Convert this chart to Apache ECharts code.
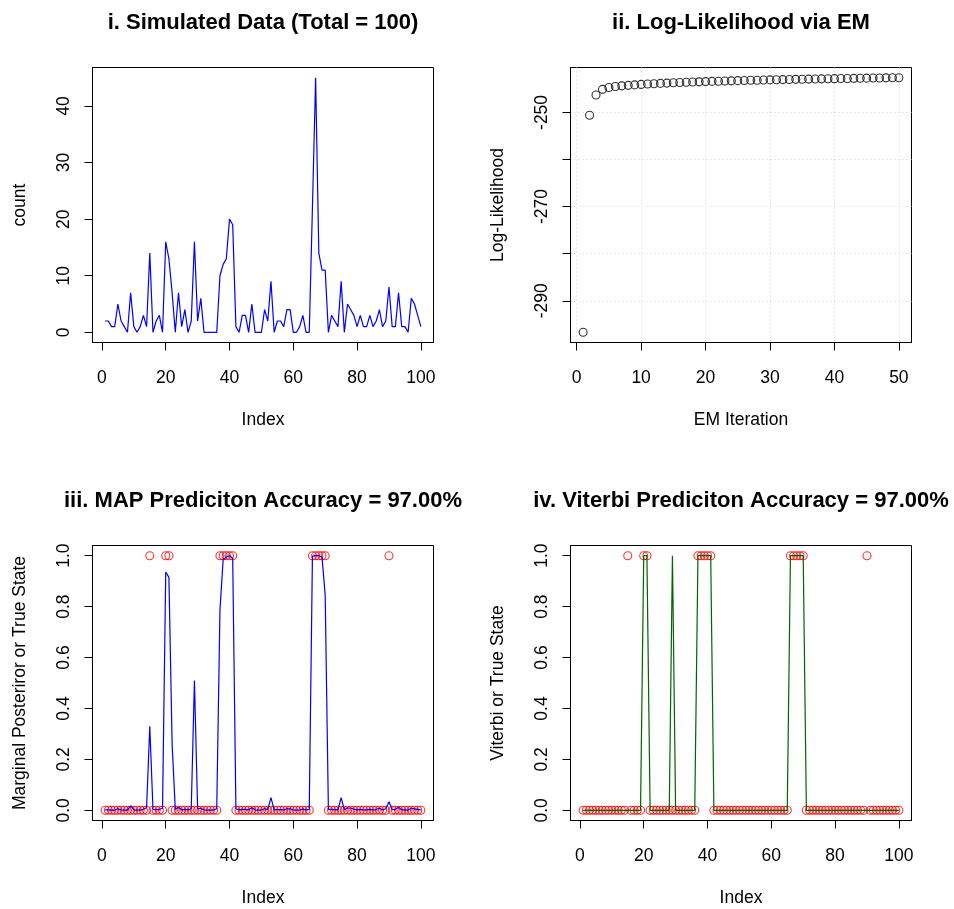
<!DOCTYPE html>
<html>
<head>
<meta charset="utf-8">
<script src="https://cdn.jsdelivr.net/npm/echarts@6/dist/echarts.min.js"></script>
<style>
  html, body { margin: 0; padding: 0; background: #fff; }
  #chart { width: 954px; height: 909px; }
</style>
</head>
<body>
<div id="chart"></div>
<script>
// Observed counts per index (1..100)
const counts = [
  2, 2, 1, 1, 5, 2, 1, 0, 7, 1,
  0, 1, 3, 1, 14, 0, 2, 3, 0, 16,
  13, 7, 0, 7, 1, 4, 0, 2, 16, 2,
  6, 0, 0, 0, 0, 0, 10, 12, 13, 20,
  19, 1, 0, 3, 3, 0, 5, 0, 0, 0,
  4, 2, 9, 0, 2, 2, 1, 4, 4, 0,
  0, 1, 3, 0, 0, 22, 45, 14, 11, 11,
  0, 3, 2, 1, 9, 0, 5, 4, 3, 1,
  3, 1, 1, 3, 1, 2, 4, 1, 2, 8,
  1, 1, 7, 1, 1, 0, 6, 5, 3, 1
];

// Log-likelihood after each EM iteration (1..50)
const logLik = [
  -296.7, -250.6, -246.3, -245.1, -244.7, -244.5, -244.35, -244.25, -244.15, -244.05,
  -243.97, -243.9, -243.83, -243.77, -243.71, -243.65, -243.6, -243.55, -243.5, -243.45,
  -243.41, -243.37, -243.33, -243.29, -243.25, -243.21, -243.18, -243.15, -243.12, -243.09,
  -243.06, -243.03, -243.0, -242.97, -242.95, -242.92, -242.9, -242.87, -242.85, -242.83,
  -242.8, -242.78, -242.76, -242.74, -242.72, -242.7, -242.68, -242.66, -242.64, -242.62
];

// Marginal posterior probability of state 1
const posterior = [
  0.002, 0.002, 0.001, 0.001, 0.006, 0.002, 0.001, 0.001, 0.018, 0.002,
  0.001, 0.002, 0.004, 0.01, 0.33, 0.004, 0.003, 0.004, 0.008, 0.936,
  0.915, 0.26, 0.004, 0.012, 0.002, 0.004, 0.002, 0.006, 0.51, 0.006,
  0.008, 0.002, 0.001, 0.001, 0.002, 0.006, 0.786, 0.984, 0.995, 1.0,
  0.99, 0.006, 0.002, 0.004, 0.004, 0.002, 0.01, 0.002, 0.001, 0.002,
  0.006, 0.004, 0.05, 0.002, 0.003, 0.003, 0.002, 0.006, 0.006, 0.002,
  0.001, 0.002, 0.005, 0.002, 0.004, 0.998, 1.0, 1.0, 0.995, 0.845,
  0.004, 0.004, 0.003, 0.002, 0.05, 0.002, 0.01, 0.008, 0.005, 0.002,
  0.004, 0.002, 0.002, 0.004, 0.002, 0.003, 0.008, 0.002, 0.006, 0.034,
  0.003, 0.004, 0.012, 0.002, 0.002, 0.001, 0.008, 0.006, 0.004, 0.002
];

// Hidden state used to simulate the counts
const trueState = [
  0, 0, 0, 0, 0, 0, 0, 0, 0, 0,
  0, 0, 0, 0, 1, 0, 0, 0, 0, 1,
  1, 0, 0, 0, 0, 0, 0, 0, 0, 0,
  0, 0, 0, 0, 0, 0, 1, 1, 1, 1,
  1, 0, 0, 0, 0, 0, 0, 0, 0, 0,
  0, 0, 0, 0, 0, 0, 0, 0, 0, 0,
  0, 0, 0, 0, 0, 1, 1, 1, 1, 1,
  0, 0, 0, 0, 0, 0, 0, 0, 0, 0,
  0, 0, 0, 0, 0, 0, 0, 0, 0, 1,
  0, 0, 0, 0, 0, 0, 0, 0, 0, 0
];

// Most likely state path from Viterbi decoding
const viterbiPath = [
  0, 0, 0, 0, 0, 0, 0, 0, 0, 0,
  0, 0, 0, 0, 0, 0, 0, 0, 0, 1,
  1, 0, 0, 0, 0, 0, 0, 0, 1, 0,
  0, 0, 0, 0, 0, 0, 1, 1, 1, 1,
  1, 0, 0, 0, 0, 0, 0, 0, 0, 0,
  0, 0, 0, 0, 0, 0, 0, 0, 0, 0,
  0, 0, 0, 0, 0, 1, 1, 1, 1, 1,
  0, 0, 0, 0, 0, 0, 0, 0, 0, 0,
  0, 0, 0, 0, 0, 0, 0, 0, 0, 0,
  0, 0, 0, 0, 0, 0, 0, 0, 0, 0
];

// Tick positions and labels
const indexTicks = [0, 20, 40, 60, 80, 100];
const iterTicks = [0, 10, 20, 30, 40, 50];
const countTicks = [0, 10, 20, 30, 40];
const llTicks = [-290, -280, -270, -260, -250];
const llLabels = [-290, -270, -250];
const probTicks = [0, 0.2, 0.4, 0.6, 0.8, 1];

const panelTitles = [
  'i. Simulated Data (Total = 100)',
  'ii. Log-Likelihood via EM',
  'iii. MAP Prediciton Accuracy = 97.00%',
  'iv. Viterbi Prediciton Accuracy = 97.00%'
];
const xNames = ['Index', 'EM Iteration', 'Index', 'Index'];
const yNames = ['count', 'Log-Likelihood', 'Marginal Posteriror or True State', 'Viterbi or True State'];

const FONT = '"Liberation Sans", Arial, Helvetica, sans-serif';
const AXIS_FS = 17.5;
const TITLE_FS = 22;

// Extend a data range by 4% on each side
function padRange(values) {
  const lo = Math.min(...values), hi = Math.max(...values);
  const d = (hi - lo) * 0.04;
  return [lo - d, hi + d];
}
const seq = n => Array.from({ length: n }, (_, i) => i + 1);
const pairs = (xs, ys) => xs.map((x, i) => [x, ys[i]]);

const idx = seq(counts.length);
const iter = seq(logLik.length);

const grids = [
  { left: 92.5, top: 67.5, width: 341, height: 275 },
  { left: 570.5, top: 67.5, width: 341, height: 275 },
  { left: 92.5, top: 545.5, width: 341, height: 275 },
  { left: 570.5, top: 545.5, width: 341, height: 275 }
].map(g => Object.assign(g, { show: true, borderColor: '#000', borderWidth: 1, backgroundColor: 'transparent', containLabel: false }));

const dotted = { show: true, lineStyle: { color: '#d3d3d3', type: [1, 3], width: 1 } };
const blackLine = () => ({ show: true, onZero: false, lineStyle: { color: '#000', width: 1 } });
const ticksOut = ticks => ({ show: true, customValues: ticks, length: 8, inside: false, lineStyle: { color: '#000', width: 1 } });

function xAxis(gi, range, ticks, grid) {
  return {
    type: 'value', gridIndex: gi, min: range[0], max: range[1], position: 'bottom',
    name: xNames[gi], nameLocation: 'middle', nameGap: 69, nameMoveOverlap: false,
    nameTextStyle: { fontSize: AXIS_FS, color: '#000', fontFamily: FONT },
    axisLine: blackLine(),
    axisTick: ticksOut(ticks),
    axisLabel: { customValues: ticks, margin: 26.5, fontSize: AXIS_FS, color: '#000', fontFamily: FONT },
    splitLine: grid ? dotted : { show: false }
  };
}

function yAxis(gi, range, ticks, labels, fmt, grid) {
  return {
    type: 'value', gridIndex: gi, min: range[0], max: range[1], position: 'left',
    name: yNames[gi], nameLocation: 'middle', nameGap: 63.5, nameRotate: 90, nameMoveOverlap: false,
    nameTextStyle: { fontSize: AXIS_FS, color: '#000', fontFamily: FONT },
    axisLine: blackLine(),
    axisTick: ticksOut(ticks),
    axisLabel: { customValues: labels, rotate: 90, margin: 19, fontSize: AXIS_FS, color: '#000', fontFamily: FONT, formatter: fmt },
    splitLine: grid ? dotted : { show: false }
  };
}

const idxRange = padRange(idx);
const probRange = padRange([0, 1]);
const fmt1 = v => Number(v).toFixed(1);

const option = {
  animation: false,
  backgroundColor: '#fff',
  title: panelTitles.map((t, i) => ({
    text: t,
    left: grids[i].left + grids[i].width / 2,
    top: grids[i].top - 55.5,
    textAlign: 'center',
    padding: 0,
    textStyle: { fontSize: TITLE_FS, fontWeight: 'bold', color: '#000', fontFamily: FONT }
  })),
  grid: grids,
  xAxis: [
    xAxis(0, idxRange, indexTicks, false),
    xAxis(1, padRange(iter), iterTicks, true),
    xAxis(2, idxRange, indexTicks, false),
    xAxis(3, idxRange, indexTicks, false)
  ],
  yAxis: [
    yAxis(0, padRange(counts), countTicks, countTicks, null, false),
    yAxis(1, padRange(logLik), llTicks, llLabels, null, true),
    yAxis(2, probRange, probTicks, probTicks, fmt1, false),
    yAxis(3, probRange, probTicks, probTicks, fmt1, false)
  ],
  series: [
    {
      type: 'line', xAxisIndex: 0, yAxisIndex: 0, data: pairs(idx, counts),
      showSymbol: false, symbol: 'none', lineStyle: { color: '#0000ff', width: 1.2 }, silent: true
    },
    {
      type: 'scatter', xAxisIndex: 1, yAxisIndex: 1, data: pairs(iter, logLik),
      symbol: 'circle', symbolSize: 8,
      itemStyle: { color: 'transparent', borderColor: '#000', borderWidth: 1.1 }, silent: true
    },
    {
      type: 'line', xAxisIndex: 2, yAxisIndex: 2, data: pairs(idx, posterior),
      showSymbol: false, symbol: 'none', lineStyle: { color: '#0000ff', width: 1.2 }, silent: true
    },
    {
      type: 'scatter', xAxisIndex: 2, yAxisIndex: 2, data: pairs(idx, trueState),
      symbol: 'circle', symbolSize: 8,
      itemStyle: { color: 'transparent', borderColor: '#ff0000', borderWidth: 1.1 }, silent: true
    },
    {
      type: 'line', xAxisIndex: 3, yAxisIndex: 3, data: pairs(idx, viterbiPath),
      showSymbol: false, symbol: 'none', lineStyle: { color: '#006400', width: 1.2 }, silent: true
    },
    {
      type: 'scatter', xAxisIndex: 3, yAxisIndex: 3, data: pairs(idx, trueState),
      symbol: 'circle', symbolSize: 8,
      itemStyle: { color: 'transparent', borderColor: '#ff0000', borderWidth: 1.1 }, silent: true
    }
  ]
};

const chart = echarts.init(document.getElementById('chart'), null, { renderer: 'canvas' });
chart.setOption(option);
</script>
</body>
</html>
